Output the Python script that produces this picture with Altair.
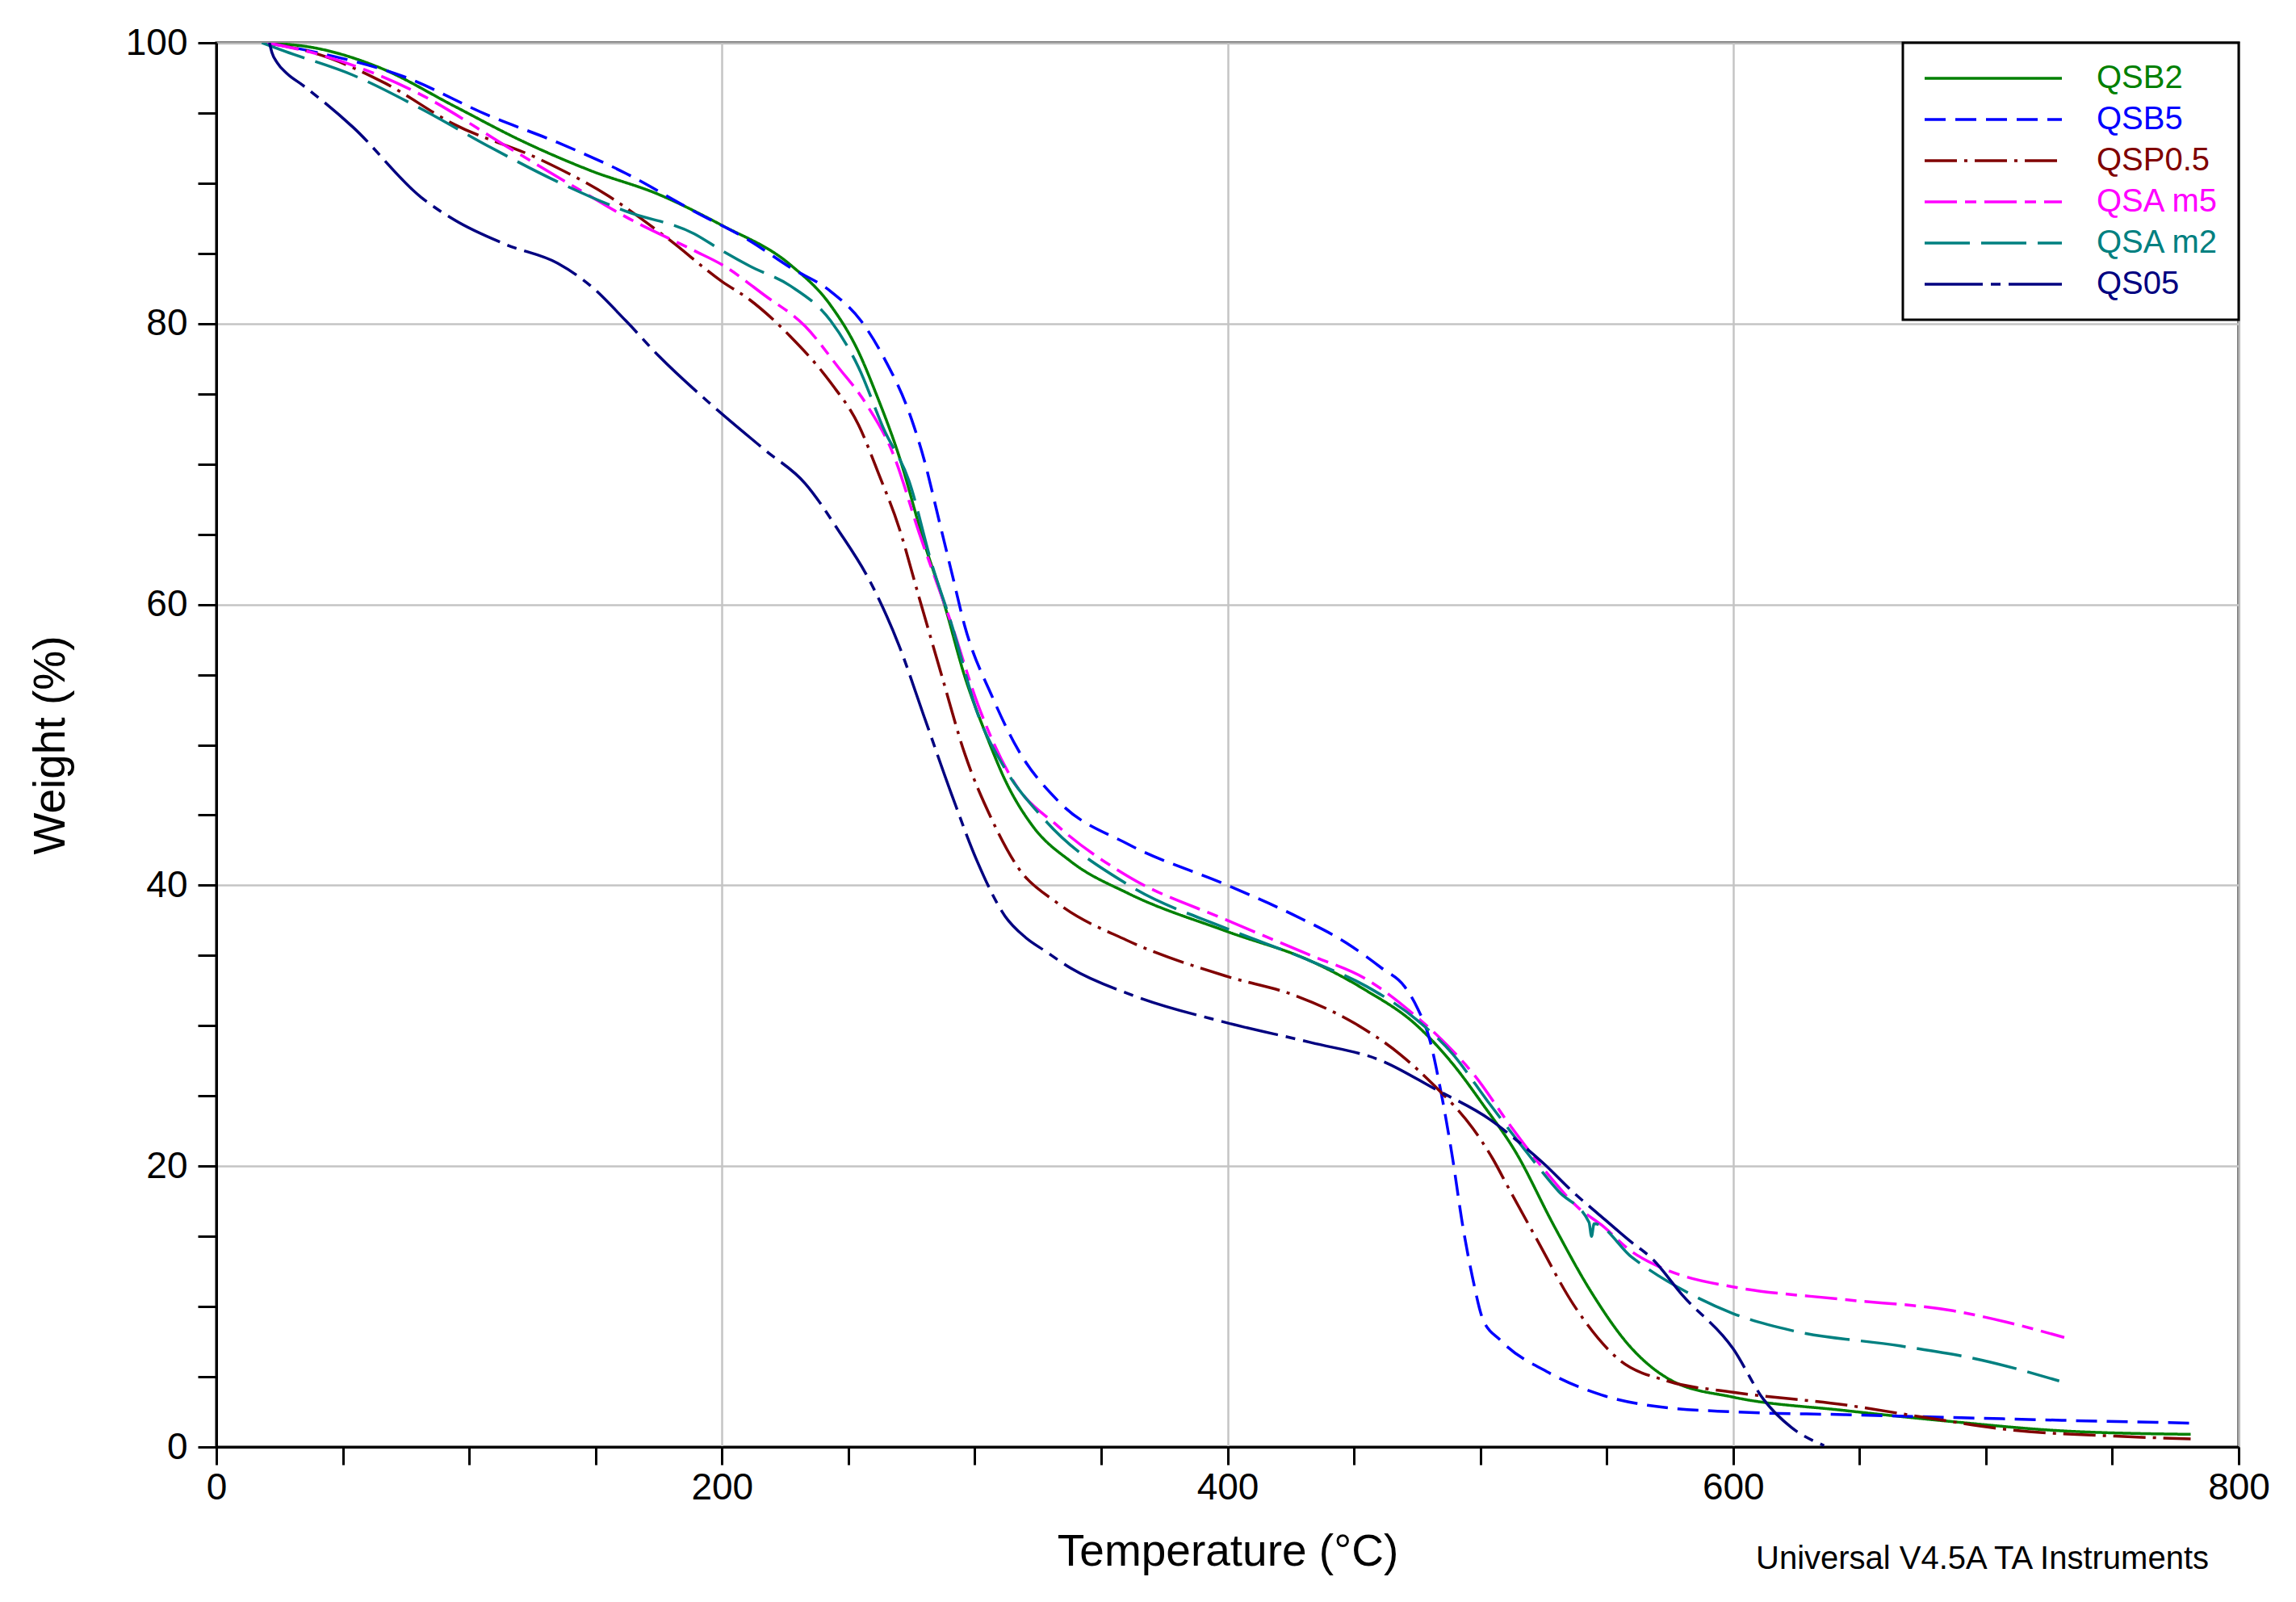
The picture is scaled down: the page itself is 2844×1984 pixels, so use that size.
import altair as alt
import pandas as pd

# ---------------- data ----------------
series_names = ["QSB2", "QSB5", "QSP0.5", "QSA m5", "QSA m2", "QS05"]
series_colors = ["#008000", "#0000FF", "#800000", "#FF00FF", "#008080", "#000080"]
series_dashes = [[1, 0], [26, 12], [40, 9, 4, 9], [40, 10, 14, 10], [56, 14], [72, 10, 12, 10]]

qsb2_t = [20, 40, 65, 94, 121, 148, 175, 200, 227, 243, 254, 261, 270, 280, 288, 296, 305, 312, 323, 338,
          361, 400, 433, 454, 475, 489, 501, 514, 529, 544, 559, 576, 600, 644, 687, 730, 781]
qsb2_w = [100, 99.6, 98.2, 95.5, 93.0, 90.9, 89.2, 87.0, 84.2, 81.3, 78.0, 75.0, 70.6, 64.4, 60.0, 54.9, 50.5, 47.5, 44.2, 41.7,
          39.4, 36.7, 34.6, 32.6, 30.0, 27.3, 24.4, 21.0, 15.8, 11.0, 7.2, 4.7, 3.55, 2.6, 1.8, 1.15, 0.9]

qsb5_t = [20, 40, 74, 108, 135, 162, 189, 211, 227, 243, 255, 264, 275, 280, 286, 291, 296, 307, 317, 333,
          361, 400, 426, 447, 461, 470, 475, 480, 484, 489, 493, 497, 501, 508, 527, 548, 569, 600, 644, 687, 730, 781]
qsb5_w = [100, 99.3, 97.6, 94.8, 92.9, 90.7, 88.0, 85.9, 84.0, 82.3, 80.2, 77.6, 73.2, 70.3, 65.9, 62.2, 58.5, 53.4, 49.7, 46.0,
          42.9, 40.0, 37.9, 35.9, 34.1, 32.8, 31.3, 29.0, 25.7, 20.6, 15.8, 12.0, 9.1, 7.6, 5.3, 3.7, 2.9, 2.5, 2.3, 2.1, 1.9, 1.7]

qsp05_t = [20, 40, 67, 94, 128, 155, 179, 200, 211, 227, 243, 254, 262, 270, 278, 287, 296, 307, 317, 333,
           360, 400, 426, 450, 468, 482, 497, 505, 511, 522, 537, 555, 574, 600, 644, 676, 708, 751, 781]
qsp05_w = [100, 99.2, 97.1, 94.2, 91.7, 89.1, 86.0, 83.0, 81.7, 79.1, 75.8, 72.8, 69.3, 65.5, 60.5, 54.9, 49.4, 44.6, 41.3, 38.7,
           36.1, 33.5, 32.2, 30.2, 28.0, 25.7, 22.7, 20.5, 18.5, 14.9, 10.1, 6.2, 4.7, 3.9, 3.0, 2.1, 1.25, 0.77, 0.58]

qsam5_t = [20, 40, 81, 115, 142, 162, 189, 200, 217, 233, 246, 257, 268, 278, 291, 301, 315, 333, 361, 400,
           433, 455, 475, 487, 498, 511, 525, 539, 548, 560, 570, 580, 600, 644, 687, 708, 731]
qsam5_w = [100, 99.2, 96.3, 92.6, 89.7, 87.6, 85.2, 84.2, 82.0, 79.8, 76.9, 74.3, 70.6, 65.1, 58.5, 53.0, 47.5, 44.2, 40.6, 37.5,
           35.0, 33.3, 30.6, 28.6, 26.4, 23.1, 19.8, 17.0, 15.8, 13.9, 12.9, 12.2, 11.4, 10.5, 9.7, 8.9, 7.8]

qsam2_t = [18, 27, 54, 81, 108, 135, 162, 189, 200, 211, 227, 243, 254, 264, 274, 283, 291, 301, 312, 328,
           361, 400, 433, 455, 475, 489, 503, 517, 531, 543, 544, 545, 560, 567, 582, 600, 623, 666, 698, 729]
qsam2_w = [100, 99.4, 97.7, 95.3, 92.6, 90.1, 88.0, 86.4, 85.2, 84.1, 82.7, 80.2, 76.9, 72.5, 68.8, 62.9, 58.5, 52.3, 48.3, 44.6,
           40.0, 36.9, 34.6, 32.8, 30.4, 28.0, 24.6, 21.3, 18.2, 16.0, 15.0, 15.9, 13.5, 12.6, 11.0, 9.5, 8.3, 7.2, 6.2, 4.7]

qs05_t = [21, 22, 24, 28, 34, 54, 81, 94, 115, 135, 148, 162, 175, 196, 217, 233, 246, 259, 270, 280,
          291, 301, 312, 320, 328, 338, 362, 400, 433, 461, 482, 504, 516, 525, 537, 546, 559, 568, 580, 600, 612, 623, 636]
qs05_w = [100, 99.3, 98.6, 97.8, 97.0, 94.0, 89.0, 87.4, 85.6, 84.3, 82.7, 80.2, 77.7, 74.2, 71.0, 68.6, 65.3, 61.5, 57.1, 52.0,
          46.4, 41.7, 37.8, 36.3, 35.3, 34.1, 32.2, 30.2, 28.8, 27.5, 25.5, 23.3, 21.6, 20.2, 18.1, 16.7, 14.7, 13.4, 10.8, 7.0, 3.4, 1.4, 0.1]

x_ticks = list(range(0, 801, 50))
y_ticks = list(range(0, 101, 5))
note_text = ["Universal V4.5A TA Instruments"]

# ---------------- build table ----------------
all_t = [qsb2_t, qsb5_t, qsp05_t, qsam5_t, qsam2_t, qs05_t]
all_w = [qsb2_w, qsb5_w, qsp05_w, qsam5_w, qsam2_w, qs05_w]
rows = []
for name, ts, ws in zip(series_names, all_t, all_w):
    for i, (t, w) in enumerate(zip(ts, ws)):
        rows.append({"Sample": name, "T": t, "W": w, "i": i})
df = pd.DataFrame(rows)

FONT = "Liberation Sans"

legend = alt.Legend(
    title=None,
    orient="top-right",
    offset=0,
    padding=24,
    strokeColor="black",
    fillColor="white",
    symbolType="M-1,0H9",
    symbolSize=1156,
    symbolStrokeWidth=3.5,
    labelFont=FONT,
    labelFontSize=40,
    labelOffset=176,
    rowPadding=11,
    labelColor=alt.ExprRef("scale('color', datum.value)"),
)

lines = alt.Chart(df).mark_line(strokeWidth=3.5, clip=True, interpolate="monotone").encode(
    x=alt.X("T:Q",
            scale=alt.Scale(domain=[0, 800], nice=False),
            axis=alt.Axis(values=x_ticks, title="Temperature (°C)",
                          labelExpr="datum.value % 200 === 0 ? datum.label : ''",
                          format="d", labelFlush=False, labelOverlap=False,
                          tickSize=22, labelPadding=6, titlePadding=30,
                          gridOpacity={"condition": {"test": "datum.value % 200 === 0", "value": 1}, "value": 0})),
    y=alt.Y("W:Q",
            scale=alt.Scale(domain=[0, 100], nice=False),
            axis=alt.Axis(values=y_ticks, title="Weight (%)",
                          labelExpr="datum.value % 20 === 0 ? datum.label : ''",
                          format="d", labelFlush=False, labelOverlap=False,
                          tickSize=23, labelPadding=13, titlePadding=64,
                          gridOpacity={"condition": {"test": "datum.value % 20 === 0", "value": 1}, "value": 0})),
    color=alt.Color("Sample:N", scale=alt.Scale(domain=series_names, range=series_colors), legend=legend),
    strokeDash=alt.StrokeDash("Sample:N", scale=alt.Scale(domain=series_names, range=series_dashes), legend=legend),
    order="i:Q",
)

note = alt.Chart(pd.DataFrame({"note": note_text})).mark_text(
    align="right", baseline="middle", font=FONT, fontSize=40, color="black"
).encode(
    text="note:N",
    x=alt.value(2468),
    y=alt.value(1878),
)

chart = alt.layer(lines, note).properties(
    width=2505,
    height=1739,
    padding={"left": 260, "top": 45, "right": 40, "bottom": 178},
    autosize=alt.AutoSizeParams(type="none"),
).configure(
    font=FONT,
).configure_view(
    stroke="black",
    strokeWidth=3,
).configure_axis(
    domainColor="black",
    domainWidth=3,
    tickColor="black",
    tickWidth=3,
    labelFont=FONT,
    labelFontSize=46,
    labelColor="black",
    titleFont=FONT,
    titleFontSize=55,
    titleFontWeight="normal",
    titleColor="black",
    gridColor="#c4c4c4",
    gridWidth=2.5,
).configure_legend(
    strokeWidth=3,
)

chart.save("out.html", embed_options={"renderer": "svg", "actions": False})
